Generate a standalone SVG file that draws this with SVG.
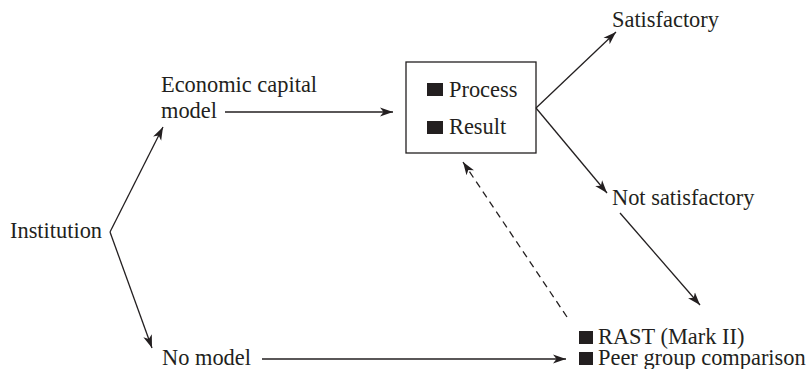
<svg xmlns="http://www.w3.org/2000/svg" width="812" height="369" viewBox="0 0 812 369">
<style>
text{font-family:"Liberation Serif","Times New Roman",serif;font-size:22.4px;fill:#231f20}
.ln{stroke:#231f20;stroke-width:1.3;fill:none}
.ar{marker-end:url(#ah)}
.ds{stroke-dasharray:7 5}
.sq{fill:#231f20}
</style>
<defs>
<marker id="ah" markerUnits="userSpaceOnUse" markerWidth="14" markerHeight="10" refX="13" refY="5" orient="auto">
<path d="M0,0.5 L13,5 L0,9.5 L3.5,5 z" fill="#231f20"/>
</marker>
</defs>
<rect width="812" height="369" fill="#fff"/>
<g id="connectors">
<line class="ln ar" x1="110" y1="232" x2="163" y2="127"/>
<line class="ln ar" x1="110" y1="232" x2="152" y2="348"/>
<line class="ln ar" x1="225" y1="112" x2="393" y2="112"/>
<line class="ln ar" x1="262" y1="359" x2="566" y2="359"/>
<line class="ln ar" x1="536" y1="108" x2="616" y2="32"/>
<line class="ln ar" x1="536" y1="108" x2="607" y2="193"/>
<line class="ln ar" x1="620" y1="213" x2="700" y2="305"/>
<line class="ln ar ds" x1="567" y1="317" x2="463" y2="162"/>
</g>
<g id="institution"><text x="10" y="238">Institution</text></g>
<g id="ecm"><text x="161" y="92">Economic capital</text><text x="161" y="118">model</text></g>
<g id="nomodel"><text x="162" y="365">No model</text></g>
<g id="box">
<rect x="406" y="62" width="130" height="91" fill="none" stroke="#231f20" stroke-width="1.3"/>
<rect class="sq" x="427" y="83" width="16" height="13"/>
<text x="449" y="97">Process</text>
<rect class="sq" x="427" y="121" width="16" height="13"/>
<text x="449" y="134">Result</text>
</g>
<g id="satisfactory"><text x="612" y="27">Satisfactory</text></g>
<g id="notsat"><text x="612" y="205">Not satisfactory</text></g>
<g id="alt">
<rect class="sq" x="579" y="331" width="14" height="13"/>
<text x="598" y="344">RAST (Mark II)</text>
<rect class="sq" x="579" y="352" width="14" height="13"/>
<text x="598" y="365">Peer group comparison</text>
</g>
</svg>
